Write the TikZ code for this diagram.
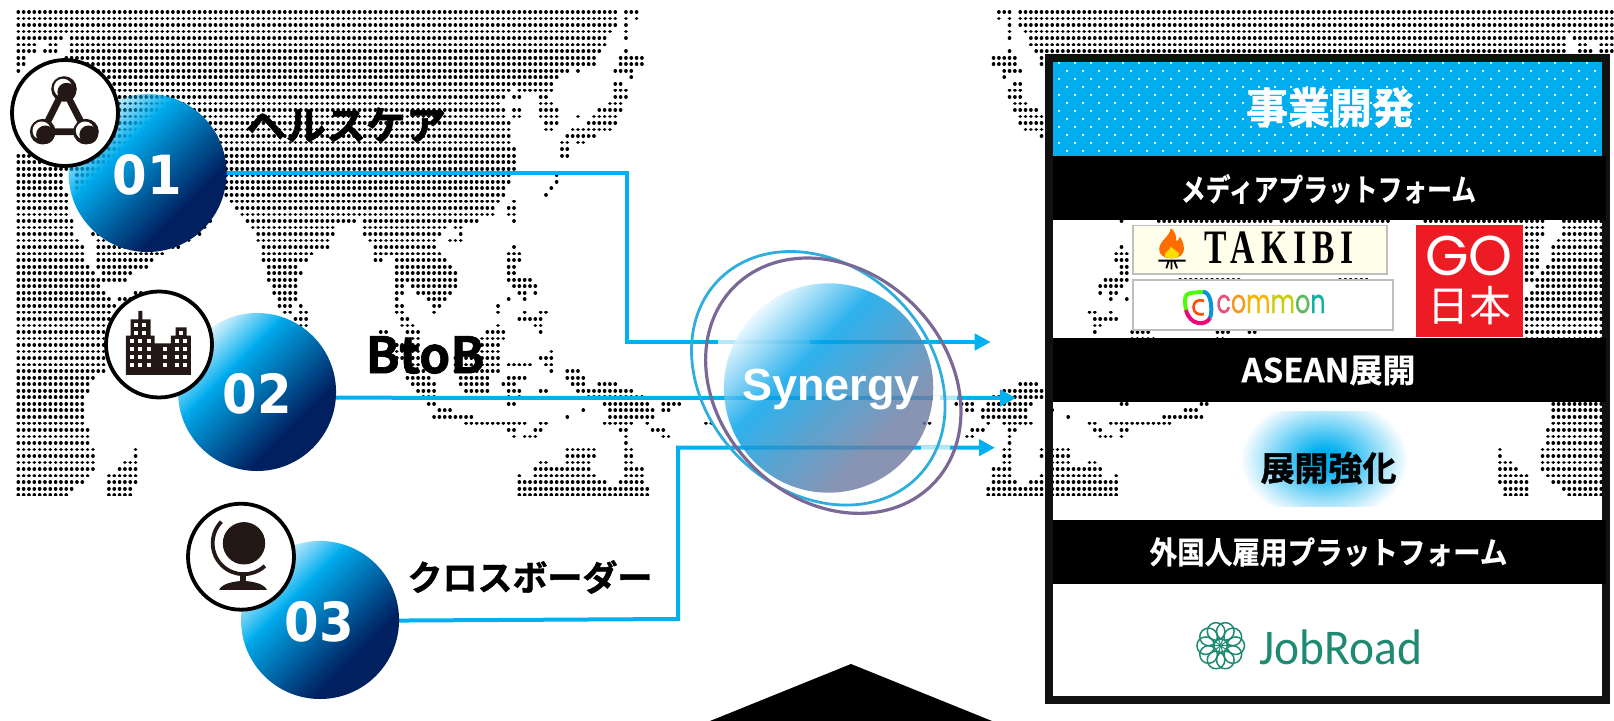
\documentclass[tikz,border=0pt]{standalone}
\usepackage{fontspec}
\usetikzlibrary{arrows.meta,fadings,shadings,calc}
\newfontfamily\jp{Noto Sans CJK JP}
\newfontfamily\jpb{Noto Sans CJK JP Bold}
\newfontfamily\jpm{Noto Sans CJK JP Bold}[FakeBold=0.5]
\newfontfamily\jph{Noto Sans CJK JP Bold}[FakeBold=1.3]
\newfontfamily\lsb{Liberation Sans Bold}
\newfontfamily\dvb{DejaVu Sans Bold}
\newfontfamily\pop{Poppins}
\newfontfamily\popb{Poppins}[FakeBold=.5]
\newfontfamily\carl{Carlito}
\newfontfamily\lsr{Liberation Serif Bold}[LetterSpace=18]
\definecolor{lnk}{HTML}{00B0F0}
\definecolor{hdr}{HTML}{00AEEF}
\definecolor{navy}{HTML}{002060}
\definecolor{ink}{HTML}{231815}
\definecolor{frame}{HTML}{111111}
\definecolor{ringc}{HTML}{2FAEDD}
\definecolor{ringp}{HTML}{7A6897}
\definecolor{jobg}{HTML}{1F8A72}
\definecolor{goRed}{HTML}{ED1C24}
\pgfdeclarehorizontalshading{ballsh}{100bp}{rgb(0bp)=(0,.682,.937); rgb(38bp)=(0,.682,.937); rgb(66bp)=(0,.125,.376); rgb(100bp)=(0,.125,.376)}
\pgfdeclarehorizontalshading{ballfd}{100bp}{rgb(0bp)=(.12,.12,.12); rgb(25bp)=(.12,.12,.12); rgb(39bp)=(1,1,1); rgb(100bp)=(1,1,1)}
\tikzfading[name=balla,shading=ballfd]
\pgfdeclarehorizontalshading{synsh}{100bp}{rgb(0bp)=(.9,.97,1); rgb(25bp)=(.9,.97,1); rgb(41bp)=(0,.63,.91); rgb(68bp)=(.435,.486,.63); rgb(100bp)=(.435,.486,.63)}
\pgfdeclareradialshading{glowsh}{\pgfpoint{0bp}{0bp}}{rgb(0bp)=(0,.682,.937); rgb(4bp)=(0,.682,.937); rgb(25bp)=(1,1,1); rgb(50bp)=(1,1,1)}
\pgfdeclarelayer{under}
\pgfsetlayers{under,main}
\tikzset{
  link/.style={draw=lnk,line width=2pt},
  tipped/.style={link,-{Triangle[length=8pt,width=8pt]}},
  veil/.style={draw=white,draw opacity=.7,line width=2pt},
  ballnode/.style={circle,inner sep=0pt,outer sep=0pt,minimum size=79pt,shade,shading=ballsh,shading angle=-45,path fading=balla,fading angle=-45},
  iconring/.style={circle,draw=black,line width=1.9pt,fill=white,minimum size=53pt,inner sep=0pt,outer sep=0pt},
  numtxt/.style={text=white,font=\dvb\fontsize{27}{27}\selectfont,xscale=.92,transform shape,inner sep=0pt},
  bartxt/.style={text=white,inner sep=0pt},
  dotrow/.style={line width=1.85pt,line cap=round,dash pattern=on 0.02pt off 2.645pt,draw=black},
  logobox/.style={draw=black!25,line width=.8pt}
}
\newcommand\MR[2]{\foreach \a/\b in {#2}{\draw[dotrow] ({18.3+5.33*\a},{12+6.53*#1}) -- ({18.3+5.33*\b+.5},{12+6.53*#1});}}
\newcommand\WorldDots{%
\MR{0}{0/112,114/116}\MR{1}{0/112,114/114,116/116}\MR{2}{0/112,114/114}\MR{3}{0/111,114/114}
\MR{4}{0/8,10/110,114/114}\MR{5}{0/3,6/7,10/110}\MR{6}{0/3,5/7,10/109,114/114}
\MR{7}{0/1,9/108,113/117}\MR{8}{0/1,9/108,113/117}\MR{9}{0/0,9/103,105/105,112/115}
\MR{10}{10/101,115/115}\MR{11}{10/100,112/113}\MR{12}{5/92,94/100,112/114}\MR{13}{5/91,93/94,98/99,112/114}
\MR{14}{5/90,98/100,111/113}\MR{15}{5/91,93/94,98/101,109/113}\MR{16}{5/91,93/94,98/101,105/105,108/112}
\MR{17}{5/92,99/101,107/112}\MR{18}{5/92,99/100,104/111}\MR{19}{5/92,103/108}\MR{20}{5/92,102/103,105/106}
\MR{21}{5/93,102/103}\MR{22}{0/93,102/103}\MR{23}{0/93}\MR{24}{0/93}
\MR{25}{0/8,11/92,101/101}\MR{26}{0/8,11/92,101/101}\MR{27}{0/8,11/91,100/100}\MR{28}{0/9,12/91,99/99}
\MR{29}{0/9,13/36,40/90,93/93}\MR{30}{0/9,13/36,41/89,92/93}\MR{31}{0/9,13/36,42/89,92/93}
\MR{32}{0/10,14/36,43/63,65/86,93/93}\MR{33}{0/10,14/35,44/59,65/80,82/83}\MR{34}{0/10,14/34,45/59,65/79,83/83}
\MR{35}{0/11,15/32,45/58,66/78,81/83}\MR{36}{0/12,15/30,46/58,67/78,93/93}
\MR{37}{0/12,15/27,46/55,67/79,92/94}\MR{38}{0/12,15/25,46/54,67/68,71/80,92/94}\MR{39}{0/13,15/24,47/52,71/81,92/93}
\MR{40}{0/14,16/21,47/53,71/82,92/93}\MR{41}{0/15,16/20,47/52,71/82,92/96}\MR{42}{0/15,48/52,71/72,74/82,93/97}
\MR{43}{0/16,22/23,48/52,71/72,75/81,94/95,97/97}\MR{44}{0/17,19/21,49/52,71/71,77/80,92/92,95/95}
\MR{45}{0/18,49/51,53/53,71/72,78/79,90/90}\MR{46}{0/17,50/51,53/54,71/72,78/78,90/90,95/95,98/99}
\MR{47}{0/17,52/54,72/73,94/98}\MR{48}{0/17,53/54,72/74,90/90,97/98}\MR{49}{0/17,68/69,73/75,88/91,98/98}
\MR{50}{0/17,74/75,87/91}\MR{51}{0/17,70/75,87/90}\MR{52}{0/17,70/75,85/90,100/100}
\MR{53}{0/17,71/75,82/90,98/98,99/100}\MR{54}{0/16,73/75,82/90,92/96,99/100}\MR{55}{0/16,73/76,82/90,100/100,103/105}
\MR{56}{0/14,73/77,83/88,92/95,103/106}\MR{57}{0/13,74/78,83/88,91/93,104/106,109/112}
\MR{58}{0/13,75/78,84/88,92/92,93/94,98/99,105/115}\MR{59}{0/12,76/78,92/92,94/94,107/117}
\MR{60}{0/12,77/78,92/93,110/118,121/124}\MR{61}{0/12,79/81,106/106,111/119,121/122}
\MR{62}{0/12,78/85,103/103,111/119}\MR{63}{0/12,84/91,92/95,98/99,110/115,118/118,129/130}
\MR{64}{0/13,92/93,97/98,113/114,119/121}\MR{65}{0/13,93/93,95/97,114/114,121/122}\MR{66}{0/13,114/114}
\MR{67}{0/14,22/22,103/108,114/115}\MR{68}{0/14,22/22,103/108,114/115}\MR{69}{0/14,20/22,98/99,103/107,114/115}
\MR{70}{0/14,19/22,97/107,114/117}\MR{71}{0/13,17/22,94/94,97/108,114/117}\MR{72}{0/12,17/22,94/110,113/117}
\MR{73}{0/10,17/21,94/118}\MR{74}{0/9,17/21,94/118}}
\begin{document}
\begin{tikzpicture}[x=.5pt,y=-.5pt]
\useasboundingbox (0,0) rectangle (1614,721);
% balls on the main layer; map and connectors go underneath
\node[ballnode] (b1) at (147.5,173) {};
\node[ballnode] (b2) at (257,392) {};
\node[ballnode] (b3) at (320,620) {};
\coordinate (t1) at (990.7,342);
\coordinate (t2) at (1016,398);
\coordinate (t3) at (995,447.7);
\coordinate (k1) at (627,173);
\coordinate (k3) at (678,619);
\begin{pgfonlayer}{under}
\begin{scope}
 \clip (0,0) rectangle (1000,495.8);
 \WorldDots
\end{scope}
\begin{scope}
 \clip (900,0) rectangle (1614,495.8);
 \begin{scope}[shift={(1635.5,0)},xscale=-1]
  \WorldDots
 \end{scope}
\end{scope}
\fill[white] (1610,54) rectangle (1614,721);
\fill[black] (710,721) -- (851,664) -- (992,721) -- cycle;
\draw[tipped] (b1.center) -- (k1) -- (k1 |- t1) -- (t1);
\draw[tipped] ([yshift=-2.85pt]b2.center) -- (t2);
\draw[tipped] ([yshift=-.5pt]b3.center) -- (k3) -- (k3 |- t3) -- (t3);
\draw[veil] (718,342) -- (810,342);
\draw[white,line width=2.2pt] (933,398) -- (940,398);
\draw[veil] (940,398) -- (957,398);
\draw[veil] (921,447.7) -- (950,447.7);
\end{pgfonlayer}
\node[numtxt] (n1) at (147,175) {01};
\node[numtxt] (n2) at (257,393.5) {02};
\node[numtxt] (n3) at (319,622) {03};
% synergy
\draw[ringc,line width=1.4pt] (818.3,378.3) ellipse [x radius=140,y radius=112,rotate=-45];
\draw[ringp,line width=1.6pt] (833.3,385.7) ellipse [x radius=140,y radius=114,rotate=-45];
\node[circle,inner sep=0pt,outer sep=0pt,minimum size=104.7pt,shade,shading=synsh,shading angle=-45,opacity=.82] (syn) at (828.6,388) {};
\node[text=white,font=\lsb\fontsize{22.5}{23}\selectfont,inner sep=0pt] (synt) at (831,390) {Synergy};
% icon rings
\node[iconring] (c1) at (65,113) {};
\node[iconring] (c2) at (159,344.5) {};
\node[iconring] (c3) at (241,556.7) {};
% icon 1
\draw[ink,line width=3.4pt,line join=round] (64,89) -- (42.7,131.7) -- (86,131.7) -- cycle;
\foreach \cx/\cy in {64/89,42.7/131.7,86/131.7}{
  \fill[ink] (\cx,\cy) circle (6.4pt);
  \fill[white] (\cx-1,\cy-1) circle (4.6pt);
  \fill[ink] (\cx+2.6,\cy+3) circle (4.6pt);
}
% icon 2
\begin{scope}[shift={(10,250)},scale=1/3]
 \fill[ink] (348,375) -- (348,257) -- (362,257) -- (362,208) -- (385,208) -- (385,183) -- (397,183) -- (397,208) -- (422,208) -- (422,257) -- (434,257) -- (434,280) -- (483,280) -- (483,257) -- (497,257) -- (497,232) -- (530,232) -- (530,257) -- (543,257) -- (543,375) -- cycle;
 \foreach \wy in {345,321,297}{\foreach \wx in {367,391,416,464,500,525}{\fill[white] (\wx-6,\wy-6) rectangle (\wx+6,\wy+6);}}
 \foreach \wx in {367,391,416,500,525}{\fill[white] (\wx-6,272-6) rectangle (\wx+6,272+6);}
 \foreach \wx in {379,403,512}{\fill[white] (\wx-6,248-6) rectangle (\wx+6,248+6);}
 \foreach \wx in {379,403}{\fill[white] (\wx-6,225-6) rectangle (\wx+6,225+6);}
\end{scope}
% icon 3
\fill[ink] (244,543.3) circle (10.6pt);
\draw[ink,line width=1.9pt] (221.4,521.7) arc [start angle=224,end angle=47,radius=31];
\fill[ink] (240,572) rectangle (246,586);
\fill[ink] (219,590) .. controls (222,583) and (236,581) .. (243,581) .. controls (250,581) and (264,583) .. (267,590) -- cycle;
% box
\fill[hdr] (1053,62) rectangle (1602,156);
\begin{scope}
 \clip (1053,62) rectangle (1602,156);
 \foreach \k in {0,...,11}{
  \pgfmathsetmacro\xo{1057.8+8*mod(\k,2)}
  \pgfmathsetmacro\yo{62.7+8*\k}
  \draw[white,line width=1pt,dash pattern=on 1pt off 7pt] (\xo,\yo) -- (1610,\yo);
 }
\end{scope}
\draw[frame,line width=4pt] (1049,58) rectangle (1605.5,700);
\fill[black] (1053,156) rectangle (1606,220);
\fill[black] (1053,338) rectangle (1606,402);
\fill[black] (1053,520) rectangle (1606,584);
\node[text=white,font=\jph\fontsize{21}{21}\selectfont,inner sep=0pt] (h0) at (1330,107.5) {事業開発};
\node[bartxt,font=\jpm\fontsize{15.5}{16}\selectfont,xscale=.8,transform shape] (h1) at (1328.5,189) {メディアプラットフォーム};
\node[bartxt,font=\jpm\fontsize{16.5}{17}\selectfont] (h2) at (1328.5,370.5) {ASEAN展開};
\node[bartxt,font=\jpm\fontsize{15.5}{16}\selectfont,xscale=.89,transform shape] (h3) at (1328.5,552) {外国人雇用プラットフォーム};
% glow
\begin{scope}
 \clip (1230,412) rectangle (1420,507);
 \shade[shading=glowsh] (1324,459) ellipse [x radius=84,y radius=62];
\end{scope}
\node[text=black,font=\jph\fontsize{17}{17}\selectfont,inner sep=0pt] (h4) at (1328.5,468) {展開強化};
% takibi logo
\node[logobox,fill=yellow!8!white,minimum width=127pt,minimum height=24.3pt,inner sep=0pt,outer sep=0pt] (tk) at (1260.2,250) {};
\node[font=\lsr\fontsize{24}{24}\selectfont,inner sep=0pt,xscale=.7,transform shape] (tkt) at (1279.5,248) {TAKIBI};
\begin{scope}[shift={(1030,40)},xscale=.3724,yscale=.3333]
 \fill[orange!85!red] (378,565) .. controls (375,590) and (350,600) .. (347,625) .. controls (345,645) and (360,655) .. (380,655) .. controls (400,655) and (415,645) .. (413,622) .. controls (412,605) and (405,595) .. (402,590) .. controls (400,600) and (395,605) .. (392,603) .. controls (395,590) and (388,572) .. (378,565) -- cycle;
 \fill[yellow!80!orange] (378,620) .. controls (375,632) and (362,635) .. (362,645) .. controls (362,653) and (372,655) .. (380,655) .. controls (390,655) and (400,652) .. (400,642) .. controls (400,635) and (392,635) .. (378,620) -- cycle;
 \draw[black,line width=.9pt] (345,662) -- (418,662) (366,685) -- (372,665) (380,688) -- (380,665) (395,685) -- (388,665);
\end{scope}
% common logo
\node[logobox,fill=white,minimum width=130pt,minimum height=25pt,inner sep=0pt,outer sep=0pt] (cm) at (1263,305) {};
\node[font=\popb\fontsize{16.5}{17}\selectfont,inner sep=0pt,xscale=.72,transform shape] (cmt) at (1271,304) {\textcolor[HTML]{E8507A}{c}\textcolor[HTML]{F39A1E}{o}\textcolor[HTML]{F5B800}{m}\textcolor[HTML]{C9CE10}{m}\textcolor[HTML]{5FB95A}{o}\textcolor[HTML]{16AFA6}{n}};
\draw[line width=2pt,green!70!yellow] (1186,310) .. controls (1183,292) and (1186,293) .. (1203,292);
\draw[line width=2pt,cyan!80!blue] (1203,292) .. controls (1211,291) and (1213,310) .. (1210,318);
\draw[line width=2pt,magenta!80!red] (1210,318) .. controls (1206,326) and (1190,326) .. (1186,310);
\draw[line width=1.3pt,red!70!yellow] (1204,301) .. controls (1190,296) and (1190,318) .. (1204,314);
% GO nihon
\node[fill=goRed,minimum width=53.5pt,minimum height=55.8pt,inner sep=0pt,outer sep=0pt] (go) at (1469.5,280.8) {};
\node[text=white,font=\pop\fontsize{28}{28}\selectfont,inner sep=0pt] (got) at (1469,256) {GO};
\node[text=white,font=\jp\fontsize{21}{21}\selectfont,inner sep=0pt] (gon) at (1469,306) {日本};
% jobroad
\node[text=jobg,font=\carl\fontsize{25}{25}\selectfont,xscale=.95,transform shape,inner sep=0pt] (jr) at (1341,647) {JobRoad};
\foreach \ang in {0,36,...,324}{
  \draw[jobg,line width=.75pt] ($(1220.7,645.7)+(\ang:15)$) circle (4.4pt);
  \draw[jobg,line width=.5pt] (1220.7,645.7) -- ($(1220.7,645.7)+(\ang:11)$);
}
% labels
\node[text=black,font=\jph\fontsize{20}{20}\selectfont,inner sep=0pt] (l1) at (346,125) {ヘルスケア};
\node[text=black,font=\jph\fontsize{25}{25}\selectfont,inner sep=0pt] (l2) at (425,355) {BtoB};
\node[text=black,font=\jph\fontsize{17.5}{18}\selectfont,inner sep=0pt] (l3) at (530,577) {クロスボーダー};
\end{tikzpicture}
\end{document}
